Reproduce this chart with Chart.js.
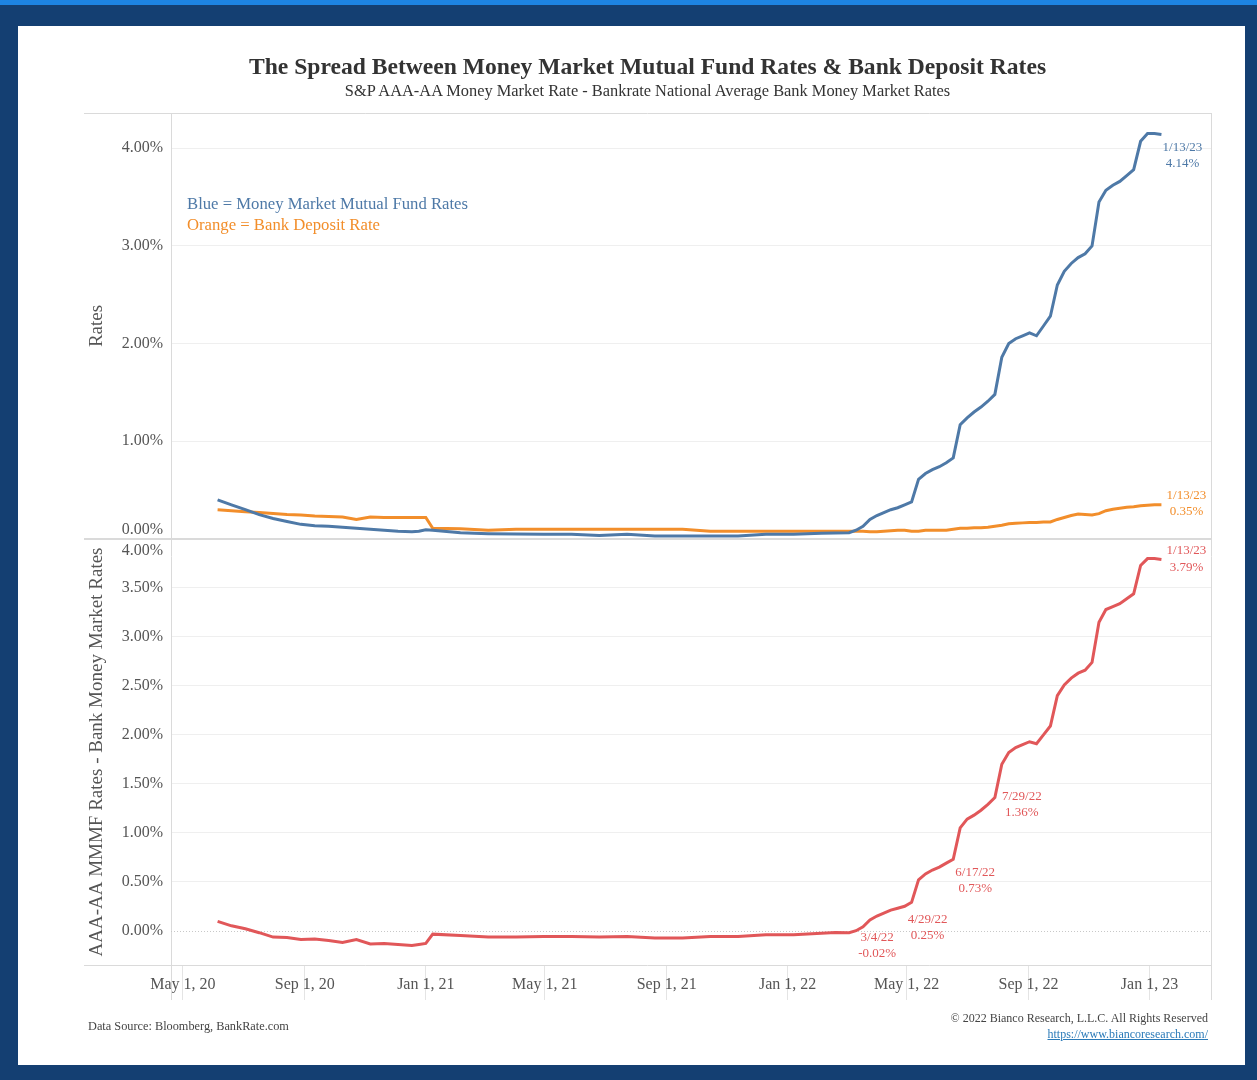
<!DOCTYPE html>
<html>
<head>
<meta charset="utf-8">
<title>The Spread Between Money Market Mutual Fund Rates & Bank Deposit Rates</title>
<script src="https://cdn.jsdelivr.net/npm/chart.js@4.4.0/dist/chart.umd.min.js"></script>
<style>
  body { margin: 0; width: 1257px; height: 1080px; background: #143f72; position: relative; overflow: hidden; font-family: 'Liberation Serif', serif; }
  #strip { position: absolute; left: 0; top: 0; width: 1257px; height: 5px; background: #1d84e3; }
  #panel { position: absolute; left: 18px; top: 26px; width: 1227px; height: 1039px; background: #fff; }
  #chart { position: absolute; left: 0; top: 0; }
  .t { position: absolute; white-space: nowrap; }
  #title { left: 84px; width: 1127px; top: 52px; text-align: center; font-size: 23.6px; line-height: 28px; font-weight: bold; color: #333; }
  #subtitle { left: 84px; width: 1127px; top: 81px; text-align: center; font-size: 16.4px; line-height: 20px; color: #333; }
  #keyBlue { left: 187px; top: 195px; font-size: 16.7px; line-height: 18px; color: #4e79a7; }
  #keyOrange { left: 187px; top: 216px; font-size: 16.7px; line-height: 18px; color: #f28e2b; }
  #source { left: 88px; top: 1019px; font-size: 12.3px; line-height: 14px; color: #444; }
  #copy { right: 49px; top: 1011px; font-size: 12px; line-height: 14px; color: #444; text-align: right; }
  #url { right: 49px; top: 1027px; font-size: 12px; line-height: 14px; color: #2a7ab8; text-decoration: underline; }
</style>
</head>
<body>
<div id="strip"></div>
<div id="panel"></div>
<canvas id="chart" width="1257" height="1080"></canvas>
<div class="t" id="title">The Spread Between Money Market Mutual Fund Rates &amp; Bank Deposit Rates</div>
<div class="t" id="subtitle">S&amp;P AAA-AA Money Market Rate - Bankrate National Average Bank Money Market Rates</div>
<div class="t" id="keyBlue">Blue = Money Market Mutual Fund Rates</div>
<div class="t" id="keyOrange">Orange = Bank Deposit Rate</div>
<div class="t" id="source">Data Source: Bloomberg, BankRate.com</div>
<div class="t" id="copy">© 2022 Bianco Research, L.L.C. All Rights Reserved</div>
<div class="t" id="url">https://www.biancoresearch.com/</div>
<script>
// weekly-ish observation dates (Fridays)
const dates = [
  '2020-06-05','2020-06-19','2020-07-03','2020-07-17','2020-07-31','2020-08-14','2020-08-28','2020-09-11',
  '2020-09-25','2020-10-09','2020-10-23','2020-11-06','2020-11-20','2020-12-04','2020-12-18','2020-12-25',
  '2021-01-01','2021-01-08','2021-02-05','2021-03-05','2021-04-02','2021-04-30','2021-05-28','2021-06-25',
  '2021-07-23','2021-08-20','2021-09-17','2021-10-15','2021-11-12','2021-12-10',
  '2022-01-07','2022-02-04','2022-02-18','2022-03-04','2022-03-11','2022-03-18','2022-03-25','2022-04-01',
  '2022-04-08','2022-04-15','2022-04-22','2022-04-29',
  '2022-05-06','2022-05-13','2022-05-20','2022-05-27','2022-06-03','2022-06-10','2022-06-17','2022-06-24',
  '2022-07-01','2022-07-08','2022-07-15','2022-07-22','2022-07-29',
  '2022-08-05','2022-08-12','2022-08-19','2022-08-26','2022-09-02','2022-09-09','2022-09-16','2022-09-23','2022-09-30',
  '2022-10-07','2022-10-14','2022-10-21','2022-10-28','2022-11-04','2022-11-11','2022-11-18','2022-11-25',
  '2022-12-02','2022-12-09','2022-12-16','2022-12-23','2022-12-30','2023-01-06','2023-01-13'
];

// S&P AAA-AA money market mutual fund rate (%)
const mmmfRates = [
  0.40, 0.35, 0.30, 0.25, 0.21, 0.18, 0.15, 0.135, 0.13, 0.12, 0.11, 0.10, 0.09, 0.08, 0.075, 0.08,
  0.095, 0.09, 0.065, 0.055, 0.05, 0.048, 0.048, 0.035, 0.048, 0.03, 0.03, 0.03, 0.03, 0.048,
  0.048, 0.058, 0.062, 0.065, 0.09, 0.13, 0.20, 0.24, 0.27, 0.30, 0.32, 0.35,
  0.38, 0.61, 0.67, 0.71, 0.74, 0.78, 0.83, 1.17, 1.24, 1.30, 1.35, 1.41, 1.48,
  1.86, 2.00, 2.05, 2.08, 2.11, 2.08, 2.18, 2.28, 2.60,
  2.74, 2.82, 2.88, 2.92, 3.00, 3.45, 3.57, 3.62,
  3.66, 3.72, 3.78, 4.07, 4.15, 4.15, 4.14
];

// Bankrate national average bank money market rate (%)
const bankRates = [
  0.30, 0.29, 0.28, 0.27, 0.26, 0.25, 0.245, 0.235, 0.23, 0.225, 0.20, 0.225, 0.22, 0.22, 0.22, 0.22,
  0.22, 0.11, 0.105, 0.09, 0.10, 0.10, 0.10, 0.10, 0.10, 0.10, 0.10, 0.08, 0.08, 0.08,
  0.08, 0.08, 0.08, 0.08, 0.08, 0.08, 0.075, 0.075, 0.08, 0.085, 0.09, 0.09,
  0.08, 0.08, 0.09, 0.09, 0.09, 0.09, 0.10, 0.11, 0.11, 0.115, 0.115, 0.12, 0.13,
  0.14, 0.155, 0.16, 0.165, 0.17, 0.17, 0.175, 0.175, 0.20,
  0.22, 0.24, 0.255, 0.25, 0.245, 0.26, 0.29, 0.305,
  0.315, 0.325, 0.33, 0.34, 0.345, 0.35, 0.35
];

// AAA-AA MMMF rates - bank money market rates (%)
const spreadRates = [
  0.095, 0.05, 0.02, -0.02, -0.065, -0.07, -0.09, -0.085, -0.10, -0.12, -0.09, -0.135, -0.13, -0.14, -0.15, -0.14,
  -0.13, -0.035, -0.05, -0.065, -0.065, -0.06, -0.06, -0.065, -0.06, -0.075, -0.075, -0.06, -0.06, -0.04,
  -0.04, -0.025, -0.017, -0.02, 0.00, 0.04, 0.11, 0.15, 0.18, 0.21, 0.23, 0.25,
  0.29, 0.52, 0.58, 0.62, 0.65, 0.69, 0.73, 1.05, 1.14, 1.18, 1.23, 1.29, 1.36,
  1.70, 1.82, 1.87, 1.90, 1.93, 1.91, 2.00, 2.09, 2.40,
  2.51, 2.58, 2.63, 2.66, 2.74, 3.15, 3.28, 3.31,
  3.34, 3.39, 3.44, 3.73, 3.80, 3.80, 3.79
];

// axis ticks
const xTickDates = ['2020-05-01','2020-09-01','2021-01-01','2021-05-01','2021-09-01','2022-01-01','2022-05-01','2022-09-01','2023-01-01'];
const xTickLabels = ['May 1, 20','Sep 1, 20','Jan 1, 21','May 1, 21','Sep 1, 21','Jan 1, 22','May 1, 22','Sep 1, 22','Jan 1, 23'];
const topTicks = [0, 1, 2, 3, 4];
const bottomTicks = [0, 0.5, 1, 1.5, 2, 2.5, 3, 3.5, 4];

const BLUE = '#4e79a7';
const ORANGE = '#f28e2b';
const RED = '#e15759';
const FONT = "'Liberation Serif', serif";
const GRID = '#efefef';
const RULE = '#dadada';

function toPoints(values) {
    return dates.map((d, i) => ({ x: Date.parse(d), y: values[i] }));
}

function pct(v) {
    return v.toFixed(2) + '%';
}

function shortDate(d) {
    const [y, m, day] = d.split('-');
    return Number(m) + '/' + Number(day) + '/' + y.slice(2);
}

// labels at selected points (offsets in px from the point)
const callouts = [
    { ds: 0, date: '2023-01-13', dx: 21, dy: [13, 29] },
    { ds: 1, date: '2023-01-13', dx: 25, dy: [-9, 7] },
    { ds: 2, date: '2023-01-13', dx: 25, dy: [-9, 8] },
    { ds: 2, date: '2022-07-29', dx: 27, dy: [-1, 15] },
    { ds: 2, date: '2022-06-17', dx: 22, dy: [13, 29] },
    { ds: 2, date: '2022-04-29', dx: 23, dy: [13, 29] },
    { ds: 2, date: '2022-03-04', dx: 28, dy: [5, 21] }
];

// panel rules, dotted zero line of the lower pane, point labels
const framePlugin = {
    id: 'frame',
    beforeDatasetsDraw(chart) {
        const { ctx, chartArea: a, scales } = chart;
        const mid = scales.yTop.bottom;
        ctx.save();
        ctx.strokeStyle = RULE;
        ctx.lineWidth = 1;
        ctx.beginPath();
        ctx.moveTo(84, a.top + 0.5); ctx.lineTo(a.right, a.top + 0.5);
        ctx.moveTo(84, a.bottom + 0.5); ctx.lineTo(a.right, a.bottom + 0.5);
        ctx.moveTo(a.left + 0.5, a.top); ctx.lineTo(a.left + 0.5, a.bottom + 35);
        ctx.moveTo(a.right + 0.5, a.top); ctx.lineTo(a.right + 0.5, a.bottom + 35);
        ctx.stroke();
        ctx.lineWidth = 2;
        ctx.beginPath();
        ctx.moveTo(84, mid); ctx.lineTo(a.right, mid);
        ctx.stroke();
        // zero line of the spread pane
        const y0 = Math.round(scales.yBot.getPixelForValue(0)) + 0.5;
        ctx.strokeStyle = '#c8c8c8';
        ctx.lineWidth = 1;
        ctx.setLineDash([1, 2]);
        ctx.beginPath();
        ctx.moveTo(a.left, y0); ctx.lineTo(a.right, y0);
        ctx.stroke();
        ctx.restore();
    },
    afterDatasetsDraw(chart) {
        const { ctx, scales } = chart;
        ctx.save();
        ctx.font = '13px ' + FONT;
        ctx.textAlign = 'center';
        ctx.textBaseline = 'middle';
        callouts.forEach(c => {
            const ds = chart.data.datasets[c.ds];
            const pt = ds.data.find(p => p.x === Date.parse(c.date));
            const px = scales.x.getPixelForValue(pt.x);
            const py = scales[ds.yAxisID].getPixelForValue(pt.y);
            ctx.fillStyle = ds.borderColor;
            ctx.fillText(shortDate(c.date), px + c.dx, py + c.dy[0]);
            ctx.fillText(pct(pt.y), px + c.dx, py + c.dy[1]);
        });
        ctx.restore();
    }
};

const ctx = document.getElementById('chart').getContext('2d');
const spreadChart = new Chart(ctx, {
    type: 'line',
    data: {
        datasets: [
            { label: 'Money Market Mutual Fund Rates', data: toPoints(mmmfRates), yAxisID: 'yTop', borderColor: BLUE, borderWidth: 3 },
            { label: 'Bank Deposit Rate', data: toPoints(bankRates), yAxisID: 'yTop', borderColor: ORANGE, borderWidth: 3 },
            { label: 'AAA-AA MMMF Rates - Bank Money Market Rates', data: toPoints(spreadRates), yAxisID: 'yBot', borderColor: RED, borderWidth: 3 }
        ]
    },
    options: {
        responsive: false,
        animation: false,
        elements: { point: { radius: 0 }, line: { tension: 0 } },
        layout: { padding: { left: 84, right: 46, top: 113, bottom: 80 } },
        plugins: { legend: { display: false }, tooltip: { enabled: false } },
        scales: {
            x: {
                type: 'linear',
                min: Date.parse('2020-04-19'),
                max: Date.parse('2023-03-04'),
                afterBuildTicks: s => { s.ticks = xTickDates.map(d => ({ value: Date.parse(d) })); },
                afterFit: s => { s.height = 35; },
                grid: { drawOnChartArea: false, drawTicks: true, tickLength: 35, color: '#e4e4e4' },
                border: { display: false },
                ticks: {
                    autoSkip: false, maxRotation: 0, padding: -25, color: '#555',
                    font: { family: FONT, size: 16 },
                    callback: v => xTickLabels[xTickDates.findIndex(d => Date.parse(d) === v)]
                }
            },
            yTop: {
                position: 'left', stack: 'panes', stackWeight: 1, weight: 2,
                min: 0, max: 4.36,
                afterBuildTicks: s => { s.ticks = topTicks.map(v => ({ value: v })); },
                afterFit: s => { s.width = 87; },
                grid: { color: GRID, drawTicks: false },
                border: { display: false },
                ticks: {
                    autoSkip: false, padding: 8, color: '#555', font: { family: FONT, size: 16 },
                    callback: v => v === 0 ? [pct(v), ''] : pct(v)
                },
                title: { display: true, text: 'Rates', color: '#555', font: { family: FONT, size: 19 }, padding: { top: 2, bottom: 2 } }
            },
            yBot: {
                position: 'left', stack: 'panes', stackWeight: 1, weight: 1,
                min: -0.35, max: 4.0,
                afterBuildTicks: s => { s.ticks = bottomTicks.map(v => ({ value: v })); },
                afterFit: s => { s.width = 87; },
                grid: { color: c => (c.tick && c.tick.value === 0) ? 'rgba(0,0,0,0)' : GRID, drawTicks: false },
                border: { display: false },
                ticks: {
                    autoSkip: false, padding: 8, color: '#555', font: { family: FONT, size: 16, lineHeight: 1.5 },
                    callback: v => v === 4 ? ['', pct(v)] : pct(v)
                },
                title: { display: true, text: 'AAA-AA MMMF Rates - Bank Money Market Rates', color: '#555', font: { family: FONT, size: 19 }, padding: { top: 2, bottom: 2 } }
            }
        }
    },
    plugins: [framePlugin]
});
</script>
</body>
</html>
